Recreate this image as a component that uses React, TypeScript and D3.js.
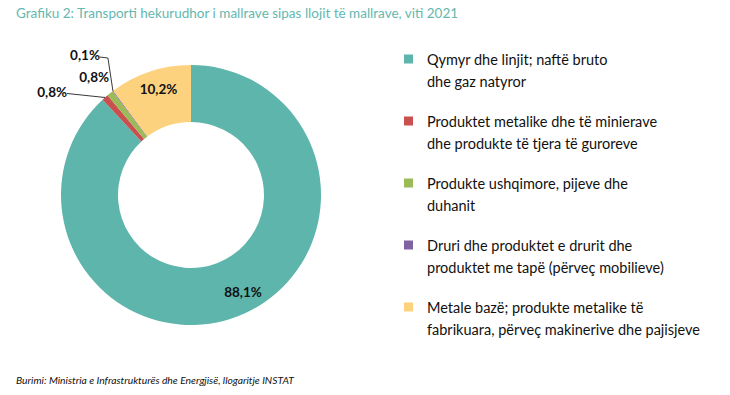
import React, { useRef, useEffect } from 'react';
import * as d3 from 'd3';

const categories = [
  'Qymyr dhe linjit; naftë bruto dhe gaz natyror',
  'Produktet metalike dhe të minierave dhe produkte të tjera të guroreve',
  'Produkte ushqimore, pijeve dhe duhanit',
  'Druri dhe produktet e drurit dhe produktet me tapë (përveç mobilieve)',
  'Metale bazë; produkte metalike të fabrikuara, përveç makinerive dhe pajisjeve',
];
const values = [88.1, 0.8, 0.8, 0.1, 10.2];
const valueLabels = ['88,1%', '0,8%', '0,8%', '0,1%', '10,2%'];
const legendLines = [
  ['Qymyr dhe linjit; naftë bruto', 'dhe gaz natyror'],
  ['Produktet metalike dhe të minierave', 'dhe produkte të tjera të guroreve'],
  ['Produkte ushqimore, pijeve dhe', 'duhanit'],
  ['Druri dhe produktet e drurit dhe', 'produktet me tapë (përveç mobilieve)'],
  ['Metale bazë; produkte metalike të', 'fabrikuara, përveç makinerive dhe pajisjeve'],
];
const colors = ['#5db5ab', '#c9504f', '#9bbb59', '#8064a2', '#fdd27f'];

const W = 730;
const H = 395;

const App = () => {
  const ref = useRef<SVGSVGElement>(null);

  useEffect(() => {
    const svg = d3.select(ref.current);
    svg.selectAll('*').remove();

    const font = 'Lato, sans-serif';
    const cx = 191;
    const cy = 195;
    const outerR = 130;
    const innerR = 73;

    svg.append('rect').attr('width', W).attr('height', H).attr('fill', '#fff');

    // title
    svg.append('text')
      .attr('x', 16)
      .attr('y', 18)
      .attr('font-family', font)
      .attr('font-size', 13.5)
      .attr('fill', '#64b8b0')
      .text('Grafiku 2: Transporti hekurudhor i mallrave sipas llojit të mallrave, viti 2021');

    const data = categories.map((c, i) => ({ name: c, value: values[i], label: valueLabels[i], color: colors[i] }));
    const pie = d3.pie<any>().sort(null).value(d => d.value);
    const arcs = pie(data);
    const arc = d3.arc<any>().innerRadius(innerR).outerRadius(outerR);

    const g = svg.append('g').attr('transform', `translate(${cx},${cy})`);
    g.selectAll('path')
      .data(arcs)
      .enter()
      .append('path')
      .attr('d', arc)
      .attr('fill', d => d.data.color);

    const outerPoint = (d: any) => {
      const a = (d.startAngle + d.endAngle) / 2;
      return [Math.sin(a) * outerR, -Math.cos(a) * outerR];
    };

    // big labels inside the ring
    [0, 4].forEach(i => {
      const [x, y] = arc.centroid(arcs[i]);
      const dx = i === 0 ? 15 : -0.5;
      const dy = i === 0 ? 3 : -10;
      g.append('text')
        .attr('x', x + dx)
        .attr('y', y + dy)
        .attr('text-anchor', 'middle')
        .attr('dominant-baseline', 'central')
        .attr('font-family', font)
        .attr('font-weight', 'bold')
        .attr('font-size', 13.5)
        .attr('fill', '#111')
        .text(arcs[i].data.label);
    });

    // small slices: labels outside
    const labelStyle = (t: any) => t
      .attr('font-family', font)
      .attr('font-weight', 'bold')
      .attr('font-size', 13.5)
      .attr('fill', '#111')
      .attr('dominant-baseline', 'central');

    // red 0,8%
    const [rx, ry] = outerPoint(arcs[1]);
    g.append('polyline')
      .attr('points', `${rx},${ry} ${rx - 38},${ry - 4}`)
      .attr('fill', 'none')
      .attr('stroke', '#222')
      .attr('stroke-width', 0.9);
    labelStyle(g.append('text'))
      .attr('x', rx - 38)
      .attr('y', ry - 6)
      .attr('text-anchor', 'end')
      .text(arcs[1].data.label);

    // green 0,8%
    const [gx, gy] = outerPoint(arcs[2]);
    labelStyle(g.append('text'))
      .attr('x', gx - 1)
      .attr('y', gy - 16)
      .attr('text-anchor', 'end')
      .text(arcs[2].data.label);

    // purple 0,1%
    const [px, py] = outerPoint(arcs[3]);
    g.append('polyline')
      .attr('points', `${px},${py} ${px - 5},${py - 33} ${px - 13},${py - 34}`)
      .attr('fill', 'none')
      .attr('stroke', '#222')
      .attr('stroke-width', 0.9);
    labelStyle(g.append('text'))
      .attr('x', px - 13)
      .attr('y', py - 36)
      .attr('text-anchor', 'end')
      .text(arcs[3].data.label);

    // legend
    const legend = svg.append('g').attr('transform', 'translate(404, 0)');
    const ly = d3.scaleLinear().domain([0, 4]).range([59, 307]);
    legendLines.forEach((lines, i) => {
      const item = legend.append('g').attr('transform', `translate(0, ${ly(i)})`);
      item.append('rect')
        .attr('x', 0)
        .attr('y', -4.5)
        .attr('width', 9)
        .attr('height', 9)
        .attr('fill', colors[i]);
      lines.forEach((line, j) => {
        item.append('text')
          .attr('x', 23)
          .attr('y', j * 22)
          .attr('dominant-baseline', 'central')
          .attr('font-family', font)
          .attr('font-size', 14.5)
          .attr('fill', '#111')
          .text(line);
      });
    });

    // source
    svg.append('text')
      .attr('x', 16)
      .attr('y', 384)
      .attr('font-family', font)
      .attr('font-style', 'italic')
      .attr('font-size', 10.3)
      .attr('fill', '#111')
      .text('Burimi: Ministria e Infrastrukturës dhe Energjisë, llogaritje INSTAT');
  }, []);

  return (
    <div style={{ width: W, height: H, margin: -8 }}>
      <svg ref={ref} width={W} height={H} style={{ display: 'block' }}></svg>
    </div>
  );
};

export default App;
